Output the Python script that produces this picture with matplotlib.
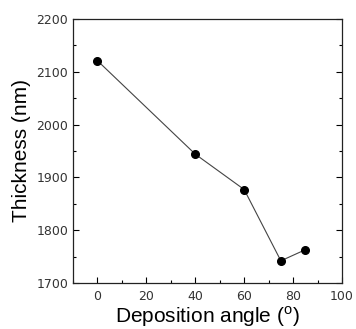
import matplotlib
matplotlib.use("Agg")
import matplotlib.pyplot as plt
from matplotlib.ticker import MultipleLocator

angles = [0, 40, 60, 75, 85]
thickness = [2121, 1944, 1877, 1742, 1763]

plt.rcParams['font.family'] = ['Liberation Sans', 'DejaVu Sans']
plt.rcParams['mathtext.fontset'] = 'custom'
plt.rcParams['mathtext.rm'] = 'Liberation Sans'

fig = plt.figure(figsize=(3.56, 3.29), dpi=100)
ax = fig.add_axes([73/356, 1-283/329, (342-73)/356, (283-19)/329])

ax.plot(angles, thickness, '-', color='#444444', lw=0.8,
        marker='o', ms=5.5, mfc='black', mec='black')

ax.set_xlim(-10, 100)
ax.set_ylim(1700, 2200)
ax.xaxis.set_major_locator(MultipleLocator(20))
ax.xaxis.set_minor_locator(MultipleLocator(10))
ax.yaxis.set_major_locator(MultipleLocator(100))
ax.yaxis.set_minor_locator(MultipleLocator(50))
ax.tick_params(which='both', direction='in', right=True, top=False,
               labelcolor='#333333', width=0.8)
ax.tick_params(which='major', length=4)
ax.tick_params(which='minor', length=2.5)
ax.tick_params(axis='x', pad=5)
for lab in ax.get_xticklabels() + ax.get_yticklabels():
    lab.set_fontfamily('DejaVu Sans')
    lab.set_fontsize(9)
for s in ax.spines.values():
    s.set_linewidth(0.9)
    s.set_color('#222222')

ax.set_xlabel(r'Deposition angle ($^{\rm o}$)', fontsize=15, labelpad=1)
ax.set_ylabel('Thickness (nm)', fontsize=15, labelpad=4)

fig.savefig('out.png', dpi=100)
